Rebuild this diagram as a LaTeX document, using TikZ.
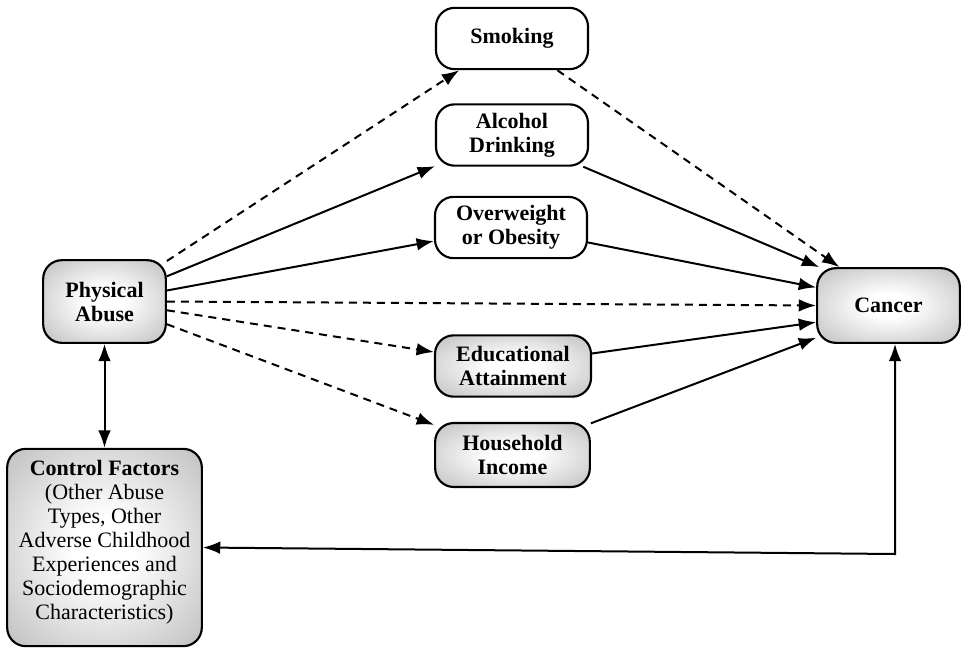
\documentclass[tikz,border=0pt]{standalone}
\usepackage{fontspec}
\setmainfont{LiberationSerif}[Extension=.ttf, UprightFont=*-Regular, BoldFont=*-Bold, ItalicFont=*-Italic, BoldItalicFont=*-BoldItalic]
\usetikzlibrary{arrows.meta,positioning,calc}
\pgfdeclareradialshading{boxshade}{\pgfpoint{0bp}{0bp}}{color(0bp)=(white); color(8bp)=(white); color(50bp)=(black!38); color(72bp)=(black!44)}
\tikzset{
block/.style = {draw, line width=1.6pt, rounded corners=14pt, fill=white, rectangle, align=center, font=\fontsize{16.5}{18}\selectfont\bfseries},
graybox/.style = {block, shade, shading=boxshade},
medbox/.style = {minimum width=114pt, minimum height=46pt},
link/.style = {line width=1.5pt, -{Latex[length=13pt,width=9.5pt]}},
dlink/.style = {link, dash pattern=on 6pt off 4.5pt},
}
\begin{document}
\begin{tikzpicture}[x=0.75pt, y=-0.75pt]
\useasboundingbox (0,0) rectangle (961,647);
% exposure, outcome and controls
\node [graybox, minimum width=92pt, minimum height=62pt] (abuse) at (104.5,301.5) {Physical\\Abuse};
\node [graybox, minimum width=107pt, minimum height=56pt] (cancer) at (888.5,305.5) {Cancer};
\node [graybox, minimum width=146pt, minimum height=148pt, font=\fontsize{16.5}{18}\selectfont] (control) at (104.5,547.5)
  {\textbf{Control Factors}\\(Other Abuse\\Types, Other\\Adverse Childhood\\Experiences and\\Sociodemographic\\Characteristics)\\[-6pt]};
% mediators
\node [block, medbox] (smoking) at (512,38.5) {Smoking};
\node [block, medbox] (alcohol) at (512,135) {Alcohol\\Drinking};
\node [block, medbox] (weight) at (511,227.5) {Overweight\\or Obesity};
\node [graybox, medbox, minimum width=117pt] (edu) at (513,366) {Educational\\Attainment};
\node [graybox, medbox, minimum width=116pt, minimum height=48pt] (income) at (512.5,455) {Household\\Income};
\coordinate (corner) at (895,554);
% abuse to mediators
\draw [dlink] (abuse.33) -- (smoking.211);
\draw [link] (abuse.22.5) -- (alcohol.202);
\draw [link] (abuse.10.6) -- (weight.190.8);
\draw [dlink] (abuse.east) -- (cancer.west);
\draw [dlink] (abuse.-8.8) -- (edu.170.5);
\draw [dlink] (abuse.-20.9) -- (income.159);
% mediators to cancer
\draw [dlink] (smoking.-35) -- (cancer.142);
\draw [link] (alcohol.-24) -- (cancer.151);
\draw [link] (weight.-11.5) -- (cancer.166);
\draw [link] (edu.9.5) -- (cancer.193);
\draw [link] (income.22) -- (cancer.204);
% controls
\draw [link, {Latex[length=13pt,width=9.5pt]}-{Latex[length=13pt,width=9.5pt]}] (abuse.south) -- (control.north);
\draw [link, {Latex[length=13pt,width=9.5pt]}-{Latex[length=13pt,width=9.5pt]}] (control.east) -- (corner) -- (corner |- cancer.south);
\end{tikzpicture}
\end{document}
